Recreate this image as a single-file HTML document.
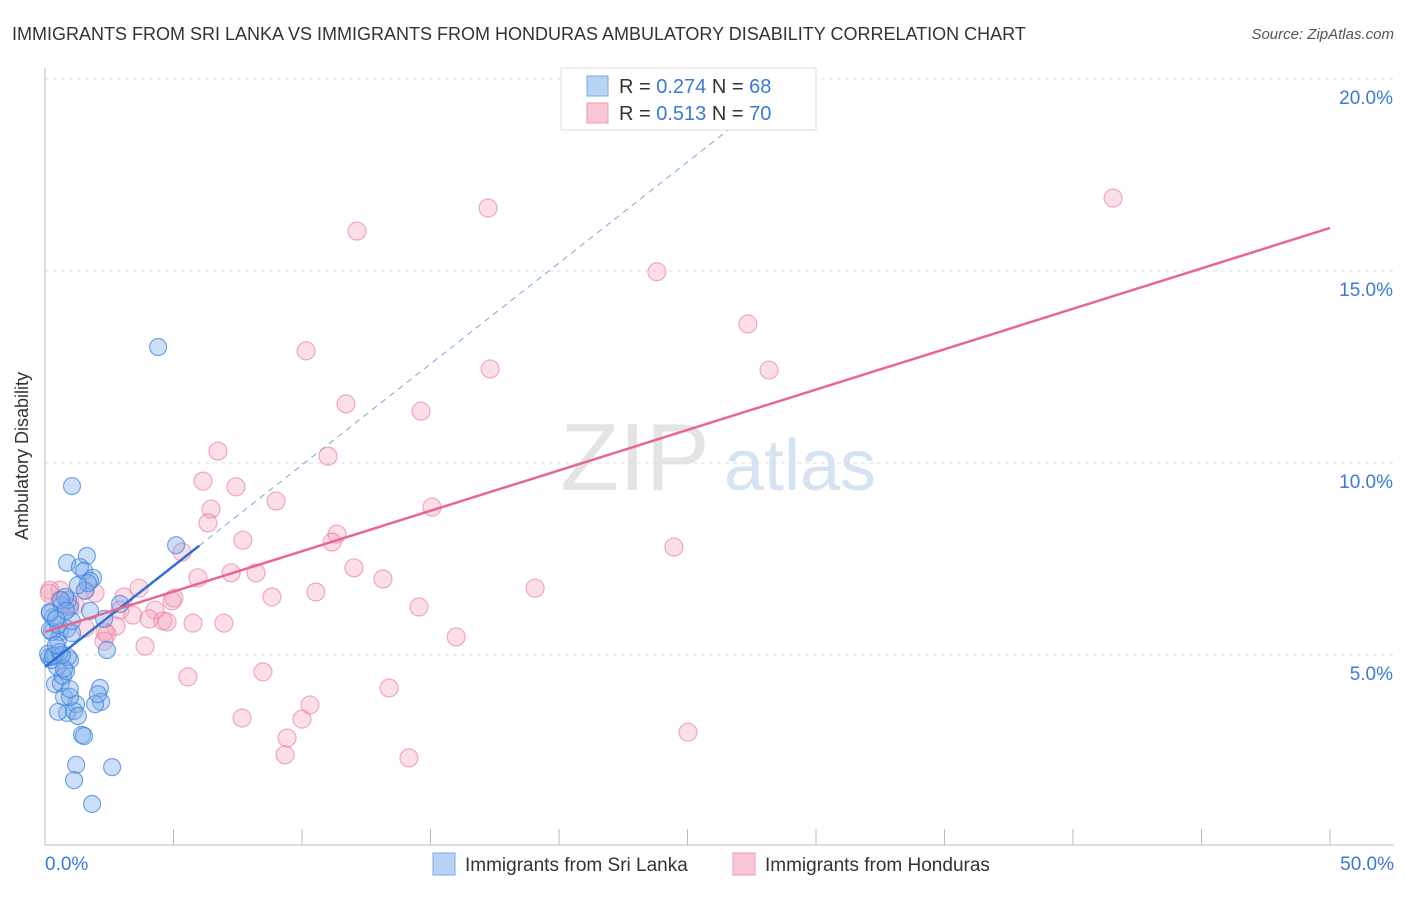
<!DOCTYPE html>
<html><head><meta charset="utf-8"><style>
body{margin:0;background:#fff;font-family:"Liberation Sans",sans-serif;}
svg text{font-family:"Liberation Sans",sans-serif;}
</style></head><body>
<svg id="chart" width="1406" height="892">
<text x="12" y="40" font-size="18" fill="#333">IMMIGRANTS FROM SRI LANKA VS IMMIGRANTS FROM HONDURAS AMBULATORY DISABILITY CORRELATION CHART</text>
<text x="1394" y="39" font-size="15" fill="#555" font-style="italic" text-anchor="end">Source: ZipAtlas.com</text>
<text x="28" y="456" font-size="18" fill="#333" text-anchor="middle" transform="rotate(-90 28 456)">Ambulatory Disability</text>
<text x="635" y="490" font-size="96" fill="#e4e4e4" font-family="Liberation Serif" text-anchor="middle">ZIP</text>
<text x="800" y="490" font-size="72" fill="#d6e3f3" text-anchor="middle">atlas</text>
<g id="grid"></g><g id="axes"></g><g id="pts"></g><g id="lines"></g>
<g>
<rect x="561" y="68" width="255" height="62" fill="#fff" stroke="#ddd"/>
<rect x="587" y="76" width="21" height="20" fill="#b9d3f5" stroke="#7aa8e6"/>
<rect x="587" y="103" width="21" height="20" fill="#f9c6d5" stroke="#ee98b3"/>
<text x="619" y="93" font-size="20" fill="#333">R = <tspan fill="#3b78d8">0.274</tspan>   N = <tspan fill="#3b78d8">68</tspan></text>
<text x="619" y="120" font-size="20" fill="#333">R =  <tspan fill="#3b78d8">0.513</tspan>   N = <tspan fill="#3b78d8">70</tspan></text>
</g>
<g>
<rect x="433" y="853" width="22" height="22" fill="#b9d3f5" stroke="#7aa8e6"/>
<text x="465" y="871" font-size="19" fill="#333">Immigrants from Sri Lanka</text>
<rect x="733" y="853" width="22" height="22" fill="#f9c6d5" stroke="#ee98b3"/>
<text x="765" y="871" font-size="19" fill="#333">Immigrants from Honduras</text>
</g>
</svg>
<script>
const xTicks=[0,5,10,15,20,25,30,35,40,45,50];
const yTicks=[5,10,15,20];
const blueX=[4.4,1.05,5.1,1.63,0.86,1.36,1.52,1.87,1.75,2.92,2.30,2.41,2.14,2.18,0.86,0.51,1.21,1.13,1.28,1.44,1.52,1.21,2.61,1.13,1.83,0.39,0.62,0.74,0.97,0.70,0.82,0.47,0.27,0.16,0.39,0.97,0.89,0.51,0.58,0.27,0.19,0.86,0.51,0.31,0.19,0.66,0.97,0.89,0.78,0.19,0.12,0.31,0.58,1.05,0.74,1.05,1.56,1.67,1.28,0.62,1.95,2.06,0.97,0.66,0.43,1.75,0.82,0.43];
const blueY=[13.02,9.40,7.86,7.58,7.40,7.29,7.19,7.01,6.93,6.33,5.94,5.13,4.14,3.78,3.49,3.52,3.72,3.54,3.41,2.92,2.89,2.14,2.08,1.74,1.12,4.24,4.27,3.91,3.91,4.45,4.58,4.69,4.87,4.95,5.00,4.87,4.95,5.39,5.60,5.60,5.65,5.68,5.78,5.99,6.09,6.30,6.25,6.43,6.51,6.12,5.03,4.97,5.08,5.57,4.64,5.88,6.67,6.87,6.82,6.43,3.72,3.98,4.11,5.00,5.26,6.15,6.15,5.94];
const pinkX=[41.56,17.24,12.14,23.81,27.35,10.16,17.32,28.17,11.71,14.63,6.73,11.01,6.15,7.43,8.99,15.06,6.46,6.34,11.36,11.17,7.70,24.47,5.33,12.02,7.24,8.21,5.95,13.15,19.07,10.54,8.83,3.66,3.07,5.02,1.95,1.56,0.58,0.19,0.16,0.58,0.97,2.92,3.42,4.28,4.94,4.05,4.59,4.75,5.76,6.96,2.76,2.33,2.41,1.56,14.55,16.0,3.89,2.30,8.48,5.56,13.39,10.31,7.67,10.00,9.42,9.34,14.16,25.02,1.17,0.78];
const pinkY=[16.90,16.64,16.04,14.98,13.62,12.92,12.45,12.42,11.54,11.35,10.31,10.18,9.53,9.38,9.01,8.85,8.80,8.44,8.15,7.94,7.99,7.81,7.68,7.27,7.14,7.14,7.01,6.98,6.74,6.64,6.51,6.74,6.51,6.48,6.61,6.69,6.69,6.69,6.61,6.43,6.35,6.17,6.04,6.17,6.41,5.94,5.89,5.86,5.83,5.83,5.75,5.60,5.55,5.70,6.25,5.47,5.23,5.36,4.56,4.43,4.14,3.70,3.36,3.33,2.84,2.40,2.32,2.99,6.30,6.17];
const blueTrend=[4.69,0.526];
const pinkTrend=[5.6,0.2104];
const X0=45,X1=1330,Y0=847,PY=38.4;
const xs=v=>X0+v/50*(X1-X0);
const ys=v=>Y0-v*PY;
const NS="http://www.w3.org/2000/svg";
function mk(tag,attrs,parent){const e=document.createElementNS(NS,tag);for(const k in attrs)e.setAttribute(k,attrs[k]);document.getElementById(parent).appendChild(e);return e;}
yTicks.forEach(t=>{
 const l=mk('line',{x1:45,x2:1394,y1:ys(t),y2:ys(t),stroke:'#ddd','stroke-dasharray':'4,4'},'grid');
 
 
 const tx=mk('text',{x:1393,y:ys(t)+25,'font-size':19,fill:'#3b78d8','text-anchor':'end'},'grid');
 tx.textContent=t.toFixed(1)+'%';
 
 
});
const ax=mk('line',{x1:45,x2:1394,y1:845,y2:845,stroke:'#bbb'},'axes');


const ay=mk('line',{x1:45,x2:45,y1:68,y2:845,stroke:'#bbb'},'axes');


xTicks.forEach(t=>{
 if(t===0)return;
 const l=mk('line',{x1:xs(t),x2:xs(t),y1:829,y2:845,stroke:'#bbb'},'axes');
 
 
});
[[0,'0.0%','start',45],[50,'50.0%','end',1394]].forEach(a=>{
 const tx=mk('text',{x:a[3],y:870,'font-size':19,fill:'#3b78d8','text-anchor':a[2]},'axes');
 tx.textContent=a[1];
 
 
});
pinkX.forEach((v,i)=>{
 const c=mk('circle',{cx:xs(v),cy:ys(pinkY[i]),r:9,fill:'rgba(244,160,187,0.35)',stroke:'rgba(232,120,156,0.6)','stroke-width':1.2},'pts');
 
 
});
blueX.forEach((v,i)=>{
 const c=mk('circle',{cx:xs(v),cy:ys(blueY[i]),r:8.5,fill:'rgba(130,175,235,0.4)',stroke:'rgba(60,130,220,0.7)','stroke-width':1.2},'pts');
 
 
});
const bEnd=(20-blueTrend[0])/blueTrend[1];
const bd=mk('line',{x1:xs(6),y1:ys(blueTrend[0]+blueTrend[1]*6),x2:xs(bEnd),y2:ys(20),stroke:'#7aa5e0','stroke-width':1,'stroke-dasharray':'6,5'},'lines');


const bs=mk('line',{x1:xs(0),y1:ys(blueTrend[0]),x2:xs(6),y2:ys(blueTrend[0]+blueTrend[1]*6),stroke:'#2f6fd3','stroke-width':2.5},'lines');


const ps=mk('line',{x1:xs(0),y1:ys(pinkTrend[0]),x2:xs(50),y2:ys(pinkTrend[0]+pinkTrend[1]*50),stroke:'#e8678f','stroke-width':2.5},'lines');


</script>
</body></html>
